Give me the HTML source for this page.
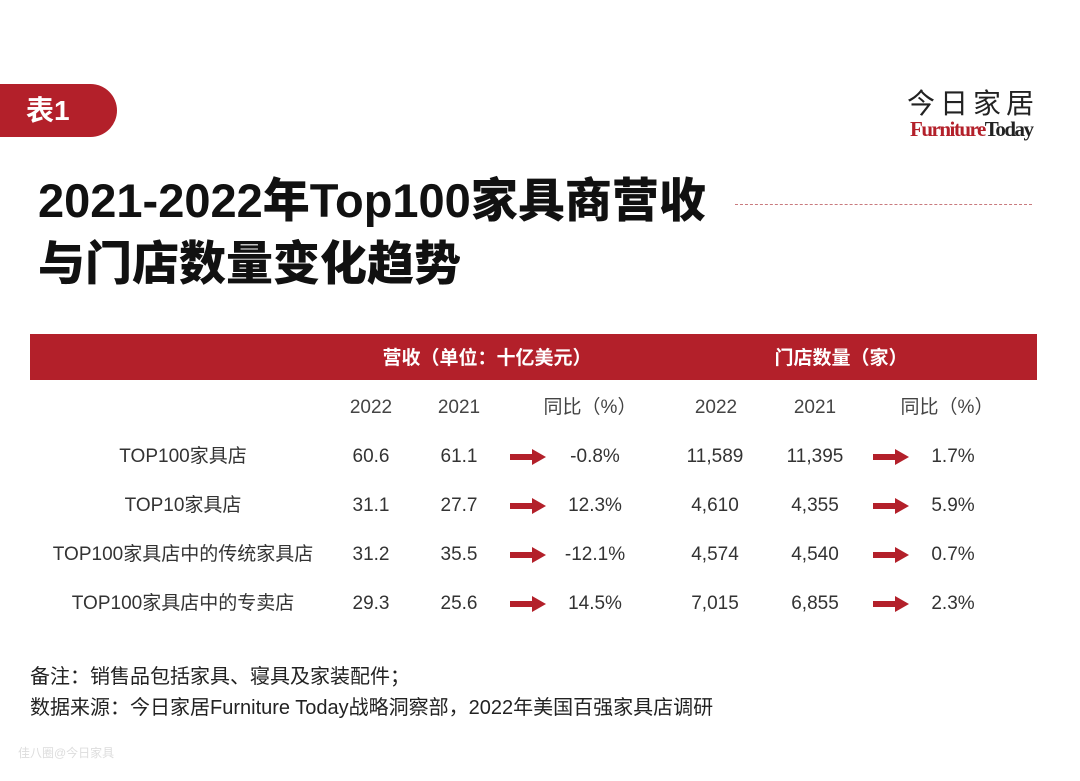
<!DOCTYPE html>
<html><head><meta charset="utf-8"><style>
body{margin:0;width:1080px;height:781px;background:#fff;position:relative;overflow:hidden;font-family:"Liberation Sans","Noto Sans CJK SC",sans-serif;color:#333}
.a{position:absolute;white-space:nowrap}
.c{transform:translateX(-50%)}
.badge{position:absolute;left:0;top:84px;width:117px;height:53px;background:#b3202a;border-radius:0 27px 27px 0;color:#fff;font-weight:bold;font-size:28px;line-height:53px;padding-left:26px;box-sizing:border-box}
.t{font-weight:900;font-size:47px;color:#111;left:38px;line-height:56px}
.bar{position:absolute;left:30px;top:334px;width:1007px;height:46px;background:#b3202a}
.h{color:#fff;font-weight:bold;font-size:19px;top:347px;line-height:24px}
.s{font-size:19px;top:396px;color:#444;line-height:24px}
.r{font-size:19px;color:#333;line-height:24px}
.arr{position:absolute;width:36px;height:16px}
</style></head><body>
<div class="badge">表1</div>
<div class="a" style="left:907px;top:82px;font-size:28px;color:#222;letter-spacing:5px">今日家居</div>
<div class="a" style="left:910px;top:117px;font-family:'Liberation Serif',serif;font-size:21px;color:#b3202a;letter-spacing:-1.5px;font-weight:bold">Furniture<span style="color:#222">Today</span></div>
<div class="a t" style="top:173px">2021-2022年Top100家具商营收</div>
<div class="a t" style="top:236px">与门店数量变化趋势</div>
<div class="a" style="left:735px;top:204px;width:297px;border-top:1.5px dashed #c97a7e"></div>
<div class="bar"></div>
<div class="a h c" style="left:487px">营收（单位：十亿美元）</div>
<div class="a h c" style="left:841px">门店数量（家）</div>
<div class="a s c" style="left:371px">2022</div><div class="a s c" style="left:459px">2021</div><div class="a s c" style="left:590px">同比（%）</div>
<div class="a s c" style="left:716px">2022</div><div class="a s c" style="left:815px">2021</div><div class="a s c" style="left:947px">同比（%）</div>
<div id="rows"></div>
<div class="a" style="left:30px;top:664px;font-size:20px;color:#222;line-height:26px">备注：销售品包括家具、寝具及家装配件；</div>
<div class="a" style="left:30px;top:695px;font-size:20px;color:#222;line-height:26px">数据来源：今日家居Furniture Today战略洞察部，2022年美国百强家具店调研</div>
<div class="a" style="left:18px;top:744px;font-size:12px;color:#ddd">佳八圈@今日家具</div>
<script>
var d=[["TOP100家具店","60.6","61.1","-0.8%","11,589","11,395","1.7%"],["TOP10家具店","31.1","27.7","12.3%","4,610","4,355","5.9%"],["TOP100家具店中的传统家具店","31.2","35.5","-12.1%","4,574","4,540","0.7%"],["TOP100家具店中的专卖店","29.3","25.6","14.5%","7,015","6,855","2.3%"]];
var xs=[183,371,459,595,715,815,953],h="";
var ar='<svg class="arr" viewBox="0 0 36 16"><path d="M0 5H22V0L36 8L22 16V11H0Z" fill="#b3202a"/></svg>';
d.forEach(function(r,i){var y=445+i*49;r.forEach(function(v,j){h+='<div class="a r c" style="left:'+xs[j]+'px;top:'+y+'px">'+v+'</div>'});
h+='<div style="position:absolute;left:510px;top:'+(y+4)+'px">'+ar+'</div><div style="position:absolute;left:873px;top:'+(y+4)+'px">'+ar+'</div>';});
document.getElementById("rows").innerHTML=h;
</script>
</body></html>
